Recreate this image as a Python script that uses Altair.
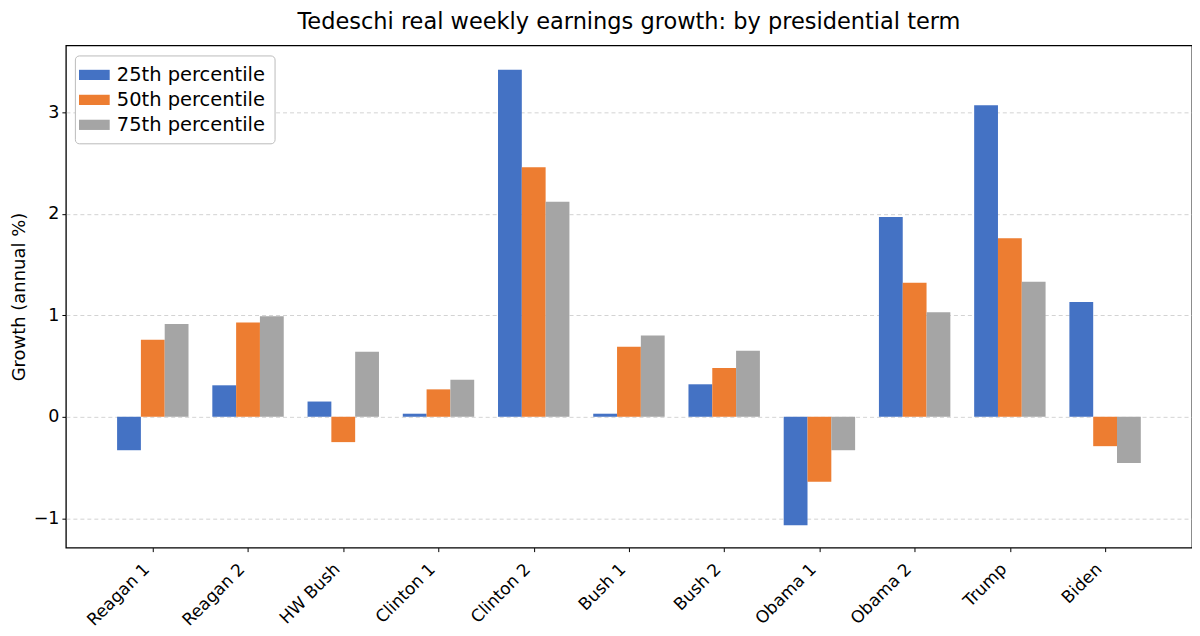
import pandas as pd
import altair as alt

# ------------------------------------------------------------
# Data
# ------------------------------------------------------------

terms = [
    "Reagan 1", "Reagan 2", "HW Bush", "Clinton 1", "Clinton 2", "Bush 1",
    "Bush 2", "Obama 1", "Obama 2", "Trump", "Biden",
]
p25 = [-0.33, 0.31, 0.15, 0.03, 3.42, 0.03, 0.32, -1.07, 1.97, 3.07, 1.13]
p50 = [0.76, 0.93, -0.25, 0.27, 2.46, 0.69, 0.48, -0.64, 1.32, 1.76, -0.29]
p75 = [0.915, 0.99, 0.64, 0.365, 2.12, 0.80, 0.65, -0.33, 1.03, 1.33, -0.455]

series = ["25th percentile", "50th percentile", "75th percentile"]
colors = ["#4472C4", "#ED7D31", "#A5A5A5"]

rows = []
for k, (name, vals) in enumerate(zip(series, [p25, p50, p75])):
    for i, (t, v) in enumerate(zip(terms, vals)):
        rows.append({"term": t, "idx": i, "k": k, "series": name, "value": v})
df = pd.DataFrame(rows)

# bar width in category units, matplotlib-style x limits (5% margin)
BAR_W = 0.25
x_lo = -1.5 * BAR_W
x_hi = len(terms) - 1 + 1.5 * BAR_W
margin = 0.05 * (x_hi - x_lo)
label_expr = "[" + ",".join(f"'{t}'" for t in terms) + "][datum.value]"

font = "DejaVu Sans"

# ------------------------------------------------------------
# Chart
# ------------------------------------------------------------

bars = (
    alt.Chart(df)
    .transform_calculate(
        x0=f"datum.idx + (datum.k - 1) * {BAR_W} - {BAR_W / 2}",
        x1=f"datum.idx + (datum.k - 1) * {BAR_W} + {BAR_W / 2}",
    )
    .mark_bar()
    .encode(
        x=alt.X(
            "x0:Q",
            scale=alt.Scale(domain=[x_lo - margin, x_hi + margin], nice=False, zero=False),
            axis=alt.Axis(
                values=list(range(len(terms))),
                labelExpr=label_expr,
                labelAngle=-45,
                labelAlign="right",
                labelBaseline="bottom",
                labelFontSize=17,
                labelColor="black",
                labelPadding=21,
                labelFlush=False,
                labelOverlap=False,
                grid=False,
                domain=False,
                tickColor="black",
                tickSize=4,
                title=None,
            ),
        ),
        x2="x1:Q",
        y=alt.Y(
            "value:Q",
            scale=alt.Scale(domain=[-1.29, 3.66], nice=False, zero=False),
            axis=alt.Axis(
                values=[-1, 0, 1, 2, 3],
                format="d",
                labelFontSize=17.5,
                labelColor="black",
                labelPadding=3,
                grid=True,
                gridColor="#c8c8c8",
                gridDash=[4, 3],
                gridWidth=0.8,
                domain=False,
                tickColor="black",
                tickSize=4,
                title="Growth (annual %)",
                titleFontSize=18,
                titleFontWeight="normal",
                titleColor="black",
                titlePadding=5,
            ),
        ),
        y2=alt.datum(0),
        color=alt.Color(
            "series:N",
            scale=alt.Scale(domain=series, range=colors),
            legend=alt.Legend(
                title=None,
                orient="none",
                legendX=9,
                legendY=10,
                direction="vertical",
                symbolType="M-1.5,-0.5L1.5,-0.5L1.5,0.5L-1.5,0.5Z",
                symbolSize=420,
                symbolStrokeWidth=0,
                symbolOpacity=1,
                labelFontSize=19.5,
                labelColor="black",
                labelOffset=12,
                rowPadding=5,
                padding=9,
                fillColor="white",
                strokeColor="#bbbbbb",
                cornerRadius=4,
            ),
        ),
    )
)

chart = (
    bars.properties(
        width=1128,
        height=503,
        title=alt.TitleParams(
            "Tedeschi real weekly earnings growth: by presidential term",
            fontSize=22.5,
            fontWeight="normal",
            color="black",
            anchor="middle",
            offset=12,
        ),
        autosize=alt.AutoSizeParams(type="none"),
        padding={"left": 58, "top": 37, "right": 0, "bottom": 86},
    )
    .configure(font=font)
    .configure_view(stroke="black", strokeWidth=1.3)
)

chart.save("out.html", embed_options={"renderer": "svg", "actions": False})
